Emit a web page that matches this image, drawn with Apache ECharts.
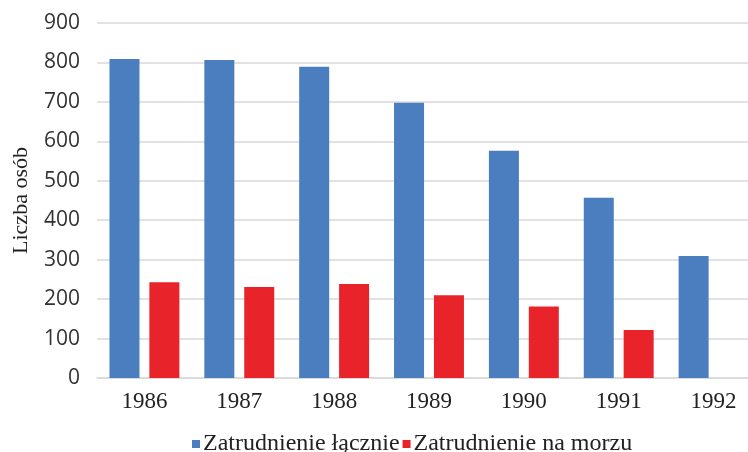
<!DOCTYPE html>
<html>
<head>
<meta charset="utf-8">
<script src="https://cdn.jsdelivr.net/npm/echarts@6/dist/echarts.min.js"></script>
<style>
  html, body { margin: 0; padding: 0; background: #fff; overflow: hidden; }
  /* wykres w oryginale jest przycięty z prawej strony */
  #chart { width: 761px; height: 452px; }
</style>
</head>
<body>
<div id="chart"></div>
<script>
// dane
const years = ['1986', '1987', '1988', '1989', '1990', '1991', '1992'];
const totalEmployment = [809, 806, 789, 698, 576, 457, 309];
const seaEmployment = [243, 231, 238, 210, 181, 122, null];
const yTicks = { min: 0, max: 900, interval: 100 };

let chart = echarts.init(document.getElementById('chart'));
let option = {
  animation: false,
  legend: {
    data: ['Zatrudnienie łącznie', 'Zatrudnienie na morzu'],
    top: 427,
    left: 187,
    icon: 'rect',
    itemWidth: 8,
    itemHeight: 8,
    itemGap: 3,
    textStyle: {
      fontFamily: 'Liberation Serif',
      fontSize: 24,
      color: '#222',
      padding: [0, 0, 0, -2]
    }
  },
  grid: {
    left: 97,
    top: 23,
    right: 0,
    height: 355
  },
  xAxis: {
    type: 'category',
    data: years,
    axisLine: { lineStyle: { color: '#d9d9d9', width: 1.5 } },
    axisTick: { show: false },
    axisLabel: {
      fontFamily: 'Liberation Serif',
      fontSize: 23,
      color: '#222',
      margin: 12
    }
  },
  yAxis: {
    type: 'value',
    min: yTicks.min,
    max: yTicks.max,
    interval: yTicks.interval,
    name: 'Liczba osób',
    nameLocation: 'middle',
    nameGap: 65,
    nameTextStyle: {
      fontFamily: 'Liberation Serif',
      fontSize: 22,
      color: '#222'
    },
    axisLine: { show: false },
    axisTick: { show: false },
    axisLabel: {
      fontFamily: 'Open Sans',
      fontSize: 21,
      color: '#333',
      margin: 17
    },
    splitLine: { lineStyle: { color: '#d9d9d9', width: 1.5 } }
  },
  series: [
    {
      name: 'Zatrudnienie łącznie',
      type: 'bar',
      data: totalEmployment,
      barWidth: 30,
      barGap: '33%',
      itemStyle: { color: '#4a7ebf' }
    },
    {
      name: 'Zatrudnienie na morzu',
      type: 'bar',
      data: seaEmployment,
      barWidth: 30,
      itemStyle: { color: '#e8242a' }
    }
  ]
};
chart.setOption(option);
</script>
</body>
</html>
